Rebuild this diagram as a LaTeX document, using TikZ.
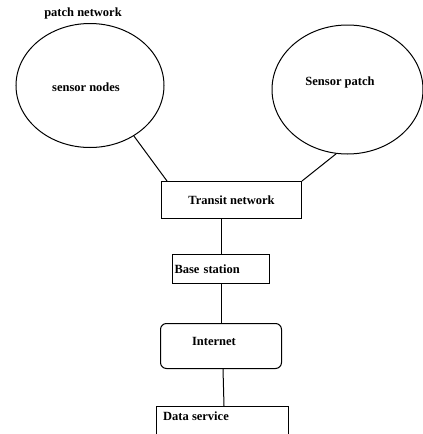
\documentclass[tikz,border=0pt]{standalone}
\usepackage{fontspec}
\setmainfont{Liberation Serif}
\usetikzlibrary{positioning,calc,shapes.geometric}

\begin{document}
\begin{tikzpicture}[x=1pt, y=-1pt,
    every node/.style={font=\fontsize{12.5}{14}\selectfont\bfseries},
    patch/.style={draw, ellipse, inner sep=0pt, line width=1pt},
    box/.style={draw, rectangle, inner sep=0pt, line width=1pt},
    link/.style={line width=1pt}]
    \useasboundingbox (0,0) rectangle (423,434);
    \clip (0,0) rectangle (423,434);

    % Centres of the parts (px)
    \coordinate (P0) at (90,85.5);
    \coordinate (P1) at (347.5,89.5);
    \coordinate (T0) at (231.5,200);
    \coordinate (B0) at (221,269);
    \coordinate (I0) at (221,346);
    \coordinate (D0) at (222.5,436.5);

    \node at (83,13) (pnet) {patch network};

    \node[patch, minimum width=148, minimum height=124] (sn) at (P0) {};
    \node at (86,87) (sn-t) {sensor nodes};
    \node[patch, minimum width=151, minimum height=129] (sp) at (P1) {};
    \node at (340,82) (sp-t) {Sensor patch};

    \node[box, minimum width=140, minimum height=37] (tn) at (T0) {Transit network};
    \node[box, minimum height=29, text width=93, inner xsep=2pt, align=left]
      (bs) at (B0) {Base station};
    \node[box, rounded corners=6pt, minimum width=121, minimum height=45] (inet) at (I0) {};
    \node at (214,341) (inet-t) {Internet};
    \node[box, minimum width=132, minimum height=60] (ds) at (D0) {};
    \node at (196,416) (ds-t) {Data service};

    % Links (top to bottom)
    \draw[link] (sn.-49) -- ($(tn.north west)+(6,0)$);
    \draw[link] (sp.-100) -- (tn.north east);
    \draw[link] (bs.north) -- (bs.north |- tn.south);
    \draw[link] (bs.south) -- (inet.north);
    \draw[link] ($(inet.south)+(2,0)$) -- ($(ds.north)+(1.5,0)$);
  \end{tikzpicture}
\end{document}
